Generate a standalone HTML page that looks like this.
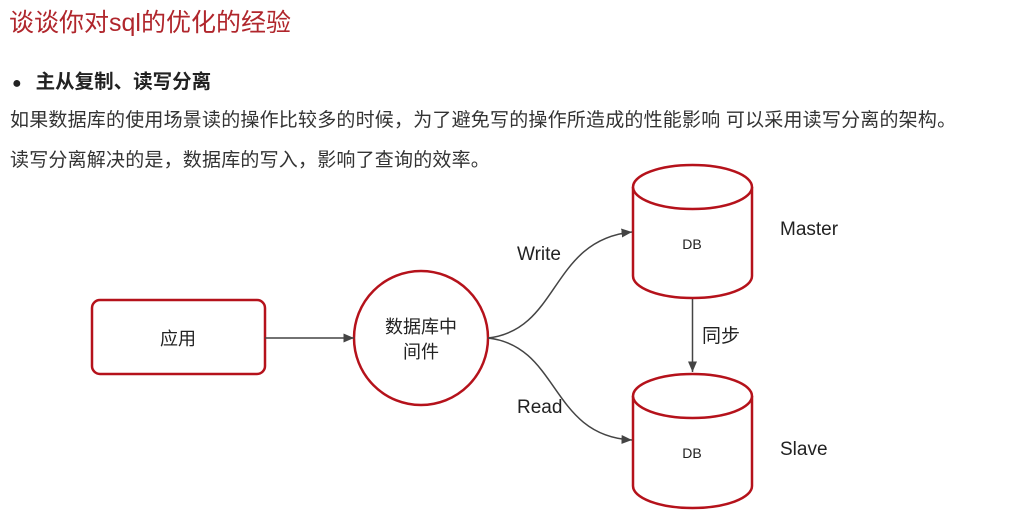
<!DOCTYPE html>
<html><head><meta charset="utf-8"><style>
body{margin:0;width:1024px;height:521px;background:#fff;overflow:hidden;position:relative;font-family:"Liberation Sans","Noto Sans CJK SC",sans-serif;color:#222}
.t{position:absolute;white-space:nowrap}
</style></head><body>
<div class="t" style="left:9px;top:3px;font-size:25px;color:#b0262c">谈谈你对sql的优化的经验</div>
<div class="t" style="left:12px;top:65px;font-size:19.5px;font-weight:bold"><span style="font-size:16px;margin-right:14px">●</span>主从复制、读写分离</div>
<div class="t" style="left:10px;top:105px;font-size:19px;letter-spacing:0.2px;color:#333">如果数据库的使用场景读的操作比较多的时候，为了避免写的操作所造成的性能影响 可以采用读写分离的架构。</div>
<div class="t" style="left:10px;top:145px;font-size:19px;letter-spacing:0.2px;color:#333">读写分离解决的是，数据库的写入，影响了查询的效率。</div>
<svg width="1024" height="521" style="position:absolute;left:0;top:0" font-family="Liberation Sans,Noto Sans CJK SC,sans-serif">
<defs><marker id="a" markerWidth="8" markerHeight="8" refX="7" refY="4" orient="auto"><path d="M0,1 L7,4 L0,7z" fill="#444"/></marker></defs>
<g fill="#fff" stroke="#b5121b" stroke-width="2.5">
<rect x="92" y="300" width="173" height="74" rx="8"/>
<circle cx="421" cy="338" r="67"/>
<path d="M633,187 L633,276 A59.5,22 0 0 0 752,276 L752,187"/>
<ellipse cx="692.5" cy="187" rx="59.5" ry="22"/>
<path d="M633,396 L633,486 A59.5,22 0 0 0 752,486 L752,396"/>
<ellipse cx="692.5" cy="396" rx="59.5" ry="22"/>
</g>
<g stroke="#444" stroke-width="1.5" fill="none" marker-end="url(#a)">
<line x1="265" y1="338" x2="354" y2="338"/>
<path d="M488,338 C560,330 550,240 632,232"/>
<path d="M488,338 C560,346 550,436 632,440"/>
<line x1="692.5" y1="299" x2="692.5" y2="372"/>
</g>
<g font-size="18" fill="#222" text-anchor="middle">
<text x="178" y="345">应用</text>
<text x="421" y="333">数据库中</text>
<text x="421" y="358">间件</text>
</g>
<g font-size="14" fill="#222" text-anchor="middle">
<text x="692" y="249">DB</text>
<text x="692" y="458">DB</text>
</g>
<g font-size="19" fill="#222">
<text x="517" y="260">Write</text>
<text x="517" y="413">Read</text>
<text x="780" y="235">Master</text>
<text x="780" y="455">Slave</text>
<text x="702" y="342">同步</text>
</g>
</svg>
</body></html>
